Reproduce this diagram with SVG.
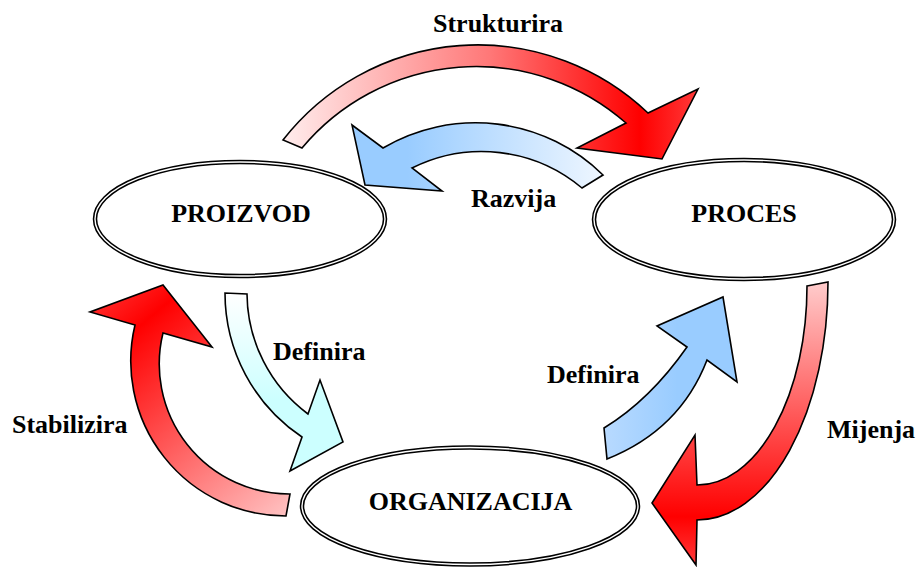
<svg xmlns="http://www.w3.org/2000/svg" width="919" height="567" viewBox="0 0 919 567">
<style>
  .ell-out { fill: #fff; stroke: #000; stroke-width: 4.5; }
  .ell-in { fill: none; stroke: #fff; stroke-width: 1.4; }
  .node-text { font-weight: bold; font-size: 26px; fill: #000; text-anchor: middle; }
  .lbl { font-weight: bold; font-size: 26px; fill: #000; }
  .arrow { stroke: #000; stroke-width: 1.6; stroke-linejoin: miter; }
</style>
<defs>
  <linearGradient id="gTop" gradientUnits="userSpaceOnUse" x1="283" y1="0" x2="698" y2="0">
    <stop offset="0" stop-color="#FFEDED"/>
    <stop offset="0.5" stop-color="#FF7777"/>
    <stop offset="0.86" stop-color="#FF0000"/>
    <stop offset="1" stop-color="#FF3A3A"/>
  </linearGradient>
  <linearGradient id="gBlueTop" gradientUnits="userSpaceOnUse" x1="352" y1="0" x2="603" y2="0">
    <stop offset="0" stop-color="#99CCFF"/>
    <stop offset="0.22" stop-color="#99CCFF"/>
    <stop offset="1" stop-color="#EEF6FF"/>
  </linearGradient>
  <linearGradient id="gCyan" gradientUnits="userSpaceOnUse" x1="0" y1="293" x2="0" y2="471">
    <stop offset="0" stop-color="#FFFFFF"/>
    <stop offset="0.6" stop-color="#CCFFFF"/>
    <stop offset="1" stop-color="#CCFFFF"/>
  </linearGradient>
  <linearGradient id="gRedLeft" gradientUnits="userSpaceOnUse" x1="100" y1="290" x2="290" y2="516">
    <stop offset="0" stop-color="#FF3030"/>
    <stop offset="0.18" stop-color="#FF0000"/>
    <stop offset="1" stop-color="#FFC4C4"/>
  </linearGradient>
  <linearGradient id="gBlueRight" gradientUnits="userSpaceOnUse" x1="604" y1="0" x2="737" y2="0">
    <stop offset="0" stop-color="#B8DAFF"/>
    <stop offset="0.55" stop-color="#99CCFF"/>
    <stop offset="1" stop-color="#99CCFF"/>
  </linearGradient>
  <linearGradient id="gRedRight" gradientUnits="userSpaceOnUse" x1="0" y1="282" x2="0" y2="565">
    <stop offset="0" stop-color="#FFCCCC"/>
    <stop offset="0.83" stop-color="#FF0000"/>
    <stop offset="1" stop-color="#FF3A3A"/>
  </linearGradient>
</defs>

<g id="connectors" font-family="'Liberation Serif', 'Times New Roman', Times, serif">
  <path id="arrow-strukturira" class="arrow" fill="url(#gTop)" d="M283,140 A247,247 0 0,1 648,113 L698,89 L662,159 L577,148 L626,123 A227,227 0 0,0 302,148 Z"/>
  <path id="arrow-razvija" class="arrow" fill="url(#gBlueTop)" d="M603,175 A182,182 0 0,0 383,148 L352,125 L365,185 L442,191 L412,168 A156,156 0 0,1 582,188 Z"/>
  <path id="arrow-definira-left" class="arrow" fill="url(#gCyan)" d="M247,294 A151,151 0 0,0 308,414 L320,380 L343,442 L290,471 L302,437 A173,173 0 0,1 225,293 Z"/>
  <path id="arrow-stabilizira" class="arrow" fill="url(#gRedLeft)" d="M286,516 A155,155 0 0,1 135,325 L90,312 L163,285 L212,347 L163,333 A130,130 0 0,0 290,494 Z"/>
  <path id="arrow-definira-right" class="arrow" fill="url(#gBlueRight)" d="M604,428 Q650,400 687,347 L657,326 L723,297 L737,382 L707,360 Q680,430 607,459 Z"/>
  <path id="arrow-mijenja" class="arrow" fill="url(#gRedRight)" d="M807,286 L828,282 A131,238 0 0,1 697,520 L696,565 L652,503 L695,435 L697,485 A110,199 0 0,0 807,286 Z"/>
  <text class="lbl" x="433" y="32">Strukturira</text>
  <text class="lbl" x="471" y="207">Razvija</text>
  <text class="lbl" x="273" y="360">Definira</text>
  <text class="lbl" x="12" y="433">Stabilizira</text>
  <text class="lbl" x="547" y="383">Definira</text>
  <text class="lbl" x="827" y="438">Mijenja</text>
</g>

<g id="node-proizvod" font-family="'Liberation Serif', 'Times New Roman', Times, serif">
  <ellipse class="ell-out" cx="240" cy="219" rx="145" ry="57"/>
  <ellipse class="ell-in" cx="240" cy="219" rx="145" ry="57"/>
  <text class="node-text" x="241" y="222">PROIZVOD</text>
</g>
<g id="node-proces" font-family="'Liberation Serif', 'Times New Roman', Times, serif">
  <ellipse class="ell-out" cx="744" cy="219.5" rx="150" ry="59.5"/>
  <ellipse class="ell-in" cx="744" cy="219.5" rx="150" ry="59.5"/>
  <text class="node-text" x="744" y="222">PROCES</text>
</g>
<g id="node-organizacija" font-family="'Liberation Serif', 'Times New Roman', Times, serif">
  <ellipse class="ell-out" cx="470" cy="506" rx="168" ry="58.5"/>
  <ellipse class="ell-in" cx="470" cy="506" rx="168" ry="58.5"/>
  <text class="node-text" x="470.5" y="510">ORGANIZACIJA</text>
</g>
</svg>
